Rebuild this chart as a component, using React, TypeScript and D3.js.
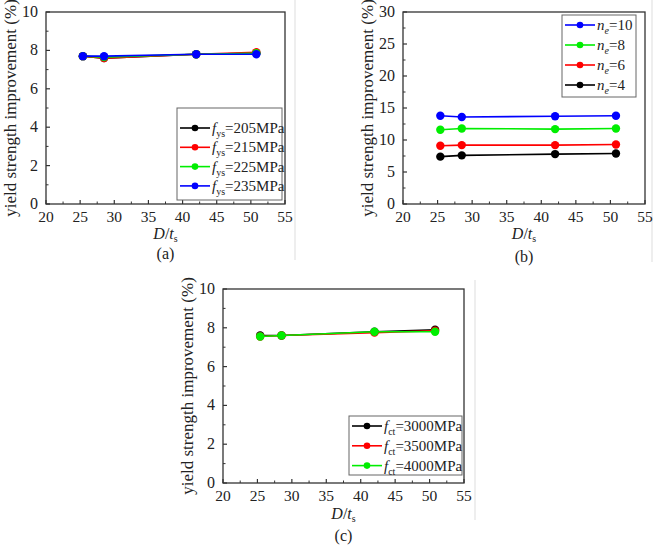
import React from 'react'
import * as d3 from 'd3'

const dt = [25.4, 28.5, 42, 50.8]

// (a) yield strength of steel
const fys205 = [7.7, 7.6, 7.8, 7.85]
const fys215 = [7.7, 7.6, 7.8, 7.9]
const fys225 = [7.7, 7.65, 7.8, 7.85]
const fys235 = [7.7, 7.7, 7.8, 7.8]

// (b) number of layers
const ne10 = [13.8, 13.6, 13.7, 13.8]
const ne8 = [11.6, 11.8, 11.7, 11.8]
const ne6 = [9.1, 9.2, 9.2, 9.3]
const ne4 = [7.4, 7.6, 7.8, 7.9]

// (c) tensile strength of CFRP
const fct3000 = [7.6, 7.6, 7.8, 7.9]
const fct3500 = [7.55, 7.6, 7.75, 7.85]
const fct4000 = [7.55, 7.6, 7.8, 7.8]

const xTicks = [20, 25, 30, 35, 40, 45, 50, 55]
const yTicksA = [0, 2, 4, 6, 8, 10]
const yTicksB = [0, 5, 10, 15, 20, 25, 30]

const FONT = "'Liberation Serif', 'Times New Roman', serif"

type Series = { name: string; sym: string; sub: string; rest: string; color: string; values: number[] }

const seriesA: Series[] = [
  { name: '205', sym: 'f', sub: 'ys', rest: '=205MPa', color: '#000000', values: fys205 },
  { name: '215', sym: 'f', sub: 'ys', rest: '=215MPa', color: '#ff0000', values: fys215 },
  { name: '225', sym: 'f', sub: 'ys', rest: '=225MPa', color: '#00ee00', values: fys225 },
  { name: '235', sym: 'f', sub: 'ys', rest: '=235MPa', color: '#0000ff', values: fys235 },
]
const seriesB: Series[] = [
  { name: '4', sym: 'n', sub: 'e', rest: '=4', color: '#000000', values: ne4 },
  { name: '6', sym: 'n', sub: 'e', rest: '=6', color: '#ff0000', values: ne6 },
  { name: '8', sym: 'n', sub: 'e', rest: '=8', color: '#00ee00', values: ne8 },
  { name: '10', sym: 'n', sub: 'e', rest: '=10', color: '#0000ff', values: ne10 },
]
const seriesC: Series[] = [
  { name: '3000', sym: 'f', sub: 'ct', rest: '=3000MPa', color: '#000000', values: fct3000 },
  { name: '3500', sym: 'f', sub: 'ct', rest: '=3500MPa', color: '#ff0000', values: fct3500 },
  { name: '4000', sym: 'f', sub: 'ct', rest: '=4000MPa', color: '#00ee00', values: fct4000 },
]

type PanelProps = {
  left: number; right: number; top: number; bottom: number
  yMax: number; yTicks: number[]
  series: Series[]
  legend: { x: number; y: number; w: number; h: number; order: number[]; rowH: number; first: number }
  tag: string; tagY: number; xLabelY: number
}

function Panel({ left, right, top, bottom, yMax, yTicks, series, legend, tag, tagY, xLabelY }: PanelProps) {
  const x = d3.scaleLinear().domain([20, 55]).range([left, right])
  const y = d3.scaleLinear().domain([0, yMax]).range([bottom, top])
  const line = d3.line<number>().x((_, i) => x(dt[i])).y(d => y(d))
  const yStep = yTicks[1] - yTicks[0]
  const yMinor = yTicks.slice(0, -1).map(t => t + yStep / 2)
  const xMinor = xTicks.slice(0, -1).map(t => t + 2.5)
  const cy = (top + bottom) / 2

  return (
    <g style={{ fontFamily: FONT }} fill="#222">
      {xTicks.map(t => (
        <g key={'x' + t}>
          <line x1={x(t)} x2={x(t)} y1={bottom} y2={bottom - 4} stroke="#333" strokeWidth={1.2} />
          <text x={x(t)} y={bottom + 18} textAnchor="middle" fontSize={15.5}>{t}</text>
        </g>
      ))}
      {xMinor.map(t => (
        <line key={'xm' + t} x1={x(t)} x2={x(t)} y1={bottom} y2={bottom - 2.5} stroke="#333" />
      ))}
      {yTicks.map(t => (
        <g key={'y' + t}>
          <line x1={left + 4} x2={left} y1={y(t)} y2={y(t)} stroke="#333" strokeWidth={1.2} />
          <text x={left - 8} y={y(t) + 5} textAnchor="end" fontSize={16}>{t}</text>
        </g>
      ))}
      {yMinor.map(t => (
        <line key={'ym' + t} x1={left + 2.5} x2={left} y1={y(t)} y2={y(t)} stroke="#333" />
      ))}
      <rect x={left} y={top} width={right - left} height={bottom - top} fill="none" stroke="#333" strokeWidth={1.3} />
      <text transform={`translate(${left - 30},${cy}) rotate(-90)`} textAnchor="middle" fontSize={17}>
        yield strength improvement (%)
      </text>
      <text x={(left + right) / 2} y={xLabelY} textAnchor="middle" fontSize={16}>
        <tspan fontStyle="italic">D</tspan>/<tspan fontStyle="italic">t</tspan>
        <tspan fontSize={10} dy={3}>s</tspan>
      </text>
      <text x={(left + right) / 2} y={tagY} textAnchor="middle" fontSize={16}>{tag}</text>

      {series.map(s => (
        <g key={s.name}>
          <path d={line(s.values) ?? ''} fill="none" stroke={s.color} strokeWidth={1.6} />
          {s.values.map((v, i) => (
            <circle key={i} cx={x(dt[i])} cy={y(v)} r={4.2} fill={s.color} />
          ))}
        </g>
      ))}

      <rect x={legend.x} y={legend.y} width={legend.w} height={legend.h} fill="#fff" stroke="#666" strokeWidth={1} />
      {legend.order.map((si, k) => {
        const s = series[si]
        const ry = legend.y + legend.first + k * legend.rowH
        return (
          <g key={'lg' + s.name}>
            <line x1={legend.x + 3} x2={legend.x + 33} y1={ry} y2={ry} stroke={s.color} strokeWidth={1.6} />
            <circle cx={legend.x + 18} cy={ry} r={3.3} fill={s.color} />
            <text x={legend.x + 35} y={ry + 5} fontSize={15}>
              <tspan fontStyle="italic">{s.sym}</tspan>
              <tspan fontSize={10} dy={4} fontStyle={s.sub === 'e' ? 'italic' : 'normal'}>{s.sub}</tspan>
              <tspan dy={-4}>{s.rest}</tspan>
            </text>
          </g>
        )
      })}
    </g>
  )
}

export default function App() {
  return (
    <svg width={660} height={551} style={{ position: 'absolute', left: 0, top: 0, background: '#fff' }}>
      <rect width={660} height={551} fill="#fff" />
      <line x1={295} x2={295} y1={0} y2={260} stroke="#ddd" />
      <line x1={652} x2={652} y1={0} y2={262} stroke="#ddd" />
      <line x1={475} x2={475} y1={280} y2={520} stroke="#ddd" />
      <Panel
        left={46} right={285} top={12} bottom={204} yMax={10} yTicks={yTicksA}
        series={seriesA}
        legend={{ x: 177, y: 108, w: 105, h: 92, order: [0, 1, 2, 3], rowH: 19.3, first: 20 }}
        tag="(a)" tagY={259} xLabelY={239}
      />
      <Panel
        left={403} right={645} top={12} bottom={204} yMax={30} yTicks={yTicksB}
        series={seriesB}
        legend={{ x: 562, y: 15, w: 74, h: 82, order: [3, 2, 1, 0], rowH: 20, first: 10 }}
        tag="(b)" tagY={262} xLabelY={239}
      />
      <Panel
        left={223} right={464} top={289} bottom={483} yMax={10} yTicks={yTicksA}
        series={seriesC}
        legend={{ x: 349, y: 416, w: 113, h: 59, order: [0, 1, 2], rowH: 19.8, first: 10 }}
        tag="(c)" tagY={541} xLabelY={519}
      />
    </svg>
  )
}
